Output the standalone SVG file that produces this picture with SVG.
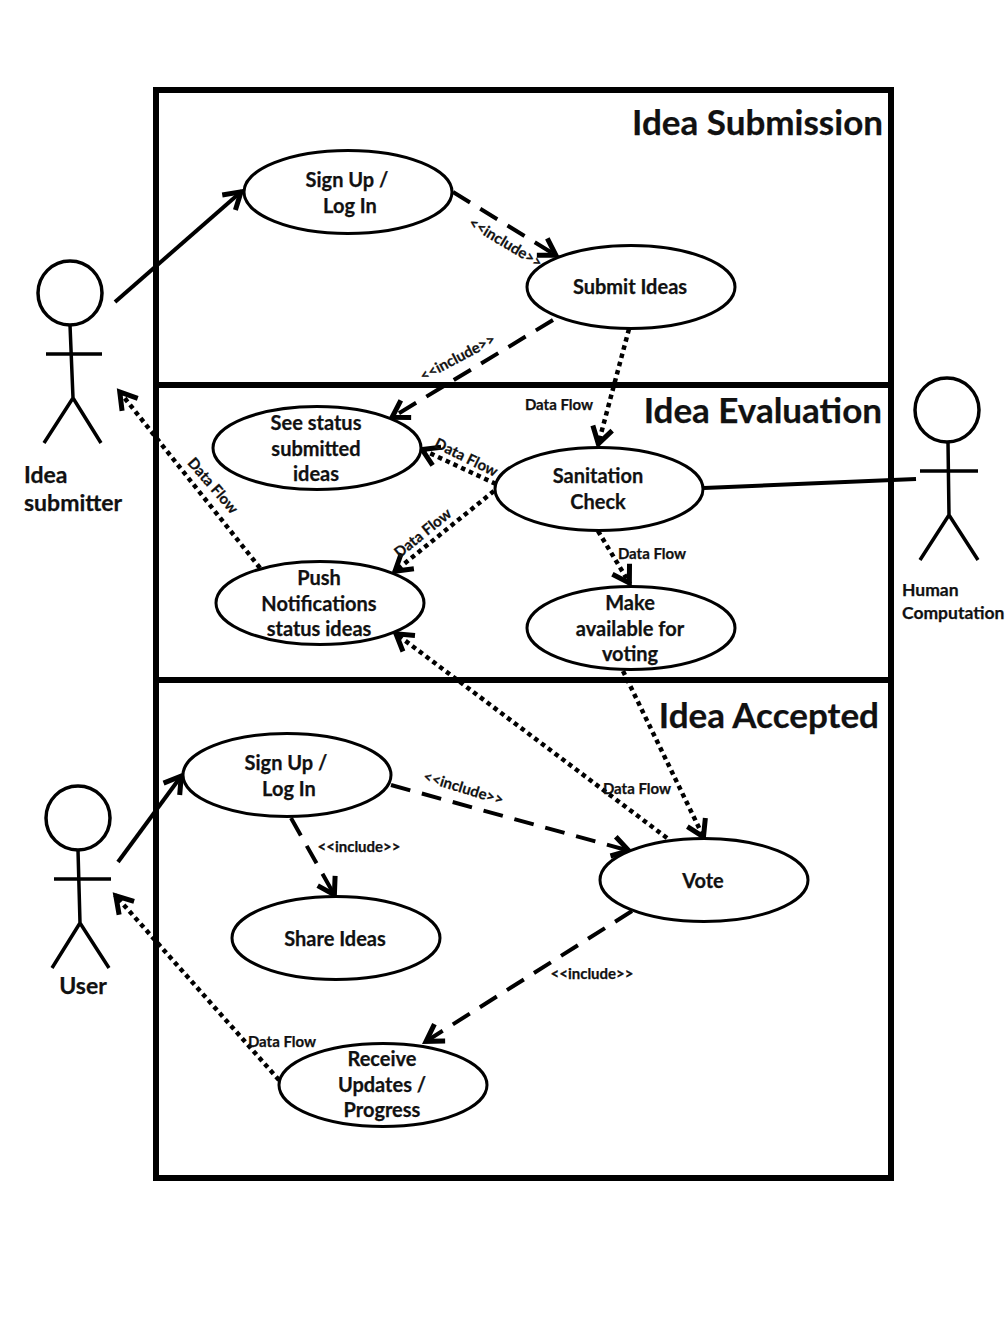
<svg xmlns="http://www.w3.org/2000/svg" width="1008" height="1344" viewBox="0 0 1008 1344">
<style>
text{font-family:Lato,"Liberation Sans",sans-serif;font-weight:700;fill:#111;stroke:#111;stroke-width:.25;text-anchor:middle}
.u{font-size:20px}
.h{font-size:35px;text-anchor:end}
.s{font-size:15px}
.a{font-size:23px;text-anchor:start}
.c{font-size:17.500px;text-anchor:start}
.e{fill:#fff;stroke:#000;stroke-width:3}
.box{fill:none;stroke:#000;stroke-width:6}
.act{fill:none;stroke:#000;stroke-width:3.500}
.so{fill:none;stroke:#000;stroke-width:4}
.ar{marker-end:url(#v)}
.da{fill:none;stroke:#000;stroke-width:4;stroke-dasharray:20 12;marker-end:url(#v)}
.do{fill:none;stroke:#000;stroke-width:4.500;stroke-dasharray:4.500 4;marker-end:url(#v)}
</style>
<defs>
<marker id="v" markerUnits="userSpaceOnUse" markerWidth="30" markerHeight="30" refX="21" refY="12" orient="auto" viewBox="0 0 24 24"><path d="M7 4 L20 12 L7 20" fill="none" stroke="#000" stroke-width="4"/></marker>
</defs>
<rect width="1008" height="1344" fill="#fff"/>
<g id="swimlanes">
<rect class="box" x="156" y="90" width="735" height="1088"/>
<path class="box" d="M156 385H891M156 680H891"/>
<text class="h" x="883" y="135">Idea Submission</text>
<text class="h" x="882" y="423">Idea Evaluation</text>
<text class="h" x="879" y="728">Idea Accepted</text>
</g>
<g id="connectors">
<path class="so ar" d="M115 302L242 191"/>
<path class="da" d="M453 192L557 256"/>
<path class="da" d="M553 320L391 418"/>
<path class="do" d="M629 329L598 445"/>
<path class="do" d="M496 484L421 449"/>
<path class="do" d="M494 491L394 572"/>
<path class="do" d="M260 568L119 391"/>
<path class="so" d="M704 488L916 479"/>
<path class="do" d="M598 531L630 584"/>
<path class="do" d="M623 671L704 838"/>
<path class="do" d="M667 838L395 633"/>
<path class="so ar" d="M118 862L182 775"/>
<path class="da" d="M391 785L630 851"/>
<path class="da" d="M291 818L335 896"/>
<path class="da" d="M632 911L425 1042"/>
<path class="do" d="M279 1080L115 895"/>
</g>
<g id="connector-labels">
<text class="s" transform="translate(503 247) rotate(31)">&lt;&lt;include&gt;&gt;</text>
<text class="s" transform="translate(460 362) rotate(-28)">&lt;&lt;include&gt;&gt;</text>
<text class="s" x="559" y="410">Data Flow</text>
<text class="s" transform="translate(464 462) rotate(26)">Data Flow</text>
<text class="s" transform="translate(426 537) rotate(-39)">Data Flow</text>
<text class="s" transform="translate(209 489) rotate(49)">Data Flow</text>
<text class="s" x="652" y="559">Data Flow</text>
<text class="s" x="637" y="794">Data Flow</text>
<text class="s" transform="translate(462 793) rotate(17)">&lt;&lt;include&gt;&gt;</text>
<text class="s" x="359" y="852">&lt;&lt;include&gt;&gt;</text>
<text class="s" x="592" y="979">&lt;&lt;include&gt;&gt;</text>
<text class="s" x="282" y="1047">Data Flow</text>
</g>
<g id="signup1"><ellipse class="e" cx="348" cy="192" rx="104" ry="41.500"/><text class="u" x="347" y="187">Sign Up /</text><text class="u" x="350" y="213">Log In</text></g>
<g id="submit"><ellipse class="e" cx="631" cy="287" rx="104" ry="41.500"/><text class="u" x="630" y="294">Submit Ideas</text></g>
<g id="status"><ellipse class="e" cx="317" cy="448" rx="104" ry="41.500"/><text class="u" x="316" y="430">See status</text><text class="u" x="316" y="456">submitted</text><text class="u" x="316" y="481">ideas</text></g>
<g id="sanitation"><ellipse class="e" cx="599" cy="489" rx="104" ry="41.500"/><text class="u" x="598" y="483">Sanitation</text><text class="u" x="598" y="509">Check</text></g>
<g id="push"><ellipse class="e" cx="320" cy="603" rx="104" ry="41.500"/><text class="u" x="319" y="585">Push</text><text class="u" x="319" y="611">Notifications</text><text class="u" x="319" y="636">status ideas</text></g>
<g id="available"><ellipse class="e" cx="631" cy="628" rx="104" ry="41.500"/><text class="u" x="630" y="610">Make</text><text class="u" x="630" y="636">available for</text><text class="u" x="630" y="661">voting</text></g>
<g id="signup2"><ellipse class="e" cx="287" cy="775" rx="104" ry="41.500"/><text class="u" x="286" y="770">Sign Up /</text><text class="u" x="289" y="796">Log In</text></g>
<g id="vote"><ellipse class="e" cx="704" cy="880" rx="104" ry="41.500"/><text class="u" x="703" y="888">Vote</text></g>
<g id="share"><ellipse class="e" cx="336" cy="938" rx="104" ry="41.500"/><text class="u" x="335" y="946">Share Ideas</text></g>
<g id="receive"><ellipse class="e" cx="383" cy="1085" rx="104" ry="41.500"/><text class="u" x="382" y="1066">Receive</text><text class="u" x="382" y="1092">Updates /</text><text class="u" x="382" y="1117">Progress</text></g>
<g id="actor-submitter"><circle class="act" cx="70" cy="293" r="32"/><path class="act" d="M70 325L73 398M46 354H102M73 398L44 443M73 398L101 443"/><text class="a" x="24" y="483">Idea</text><text class="a" x="24" y="511">submitter</text></g>
<g id="actor-human"><circle class="act" cx="947" cy="410" r="32"/><path class="act" d="M948 442L949 515M920 471H978M949 515L920 560M949 515L978 560"/><text class="c" x="902" y="596">Human</text><text class="c" x="902" y="619">Computation</text></g>
<g id="actor-user"><circle class="act" cx="78" cy="818" r="32"/><path class="act" d="M78 850L80 923M54 879H111M80 923L52 968M80 923L109 968"/><text class="a" style="text-anchor:middle" x="83" y="994">User</text></g>
</svg>
